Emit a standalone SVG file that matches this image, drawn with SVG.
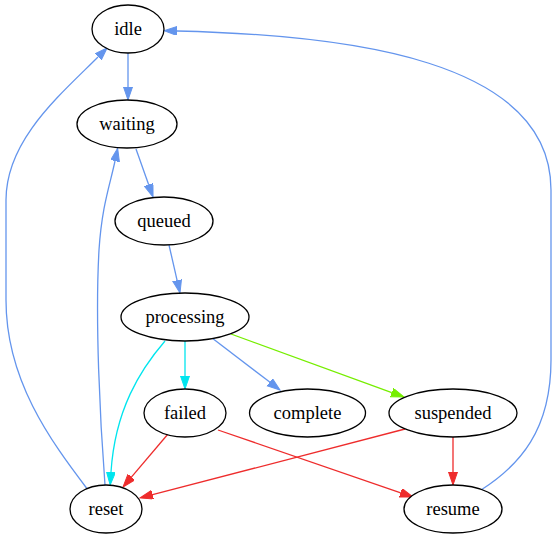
<svg xmlns="http://www.w3.org/2000/svg" width="559" height="539" viewBox="0 0 559 539">
<style>
.n ellipse{fill:#fff;stroke:#000;stroke-width:1.3}
.n text{font-size:18.5px;text-anchor:middle;fill:#000}
.e path{fill:none;stroke-width:1.3}
.b{stroke:#6495ed}.r{stroke:#ee2c2c}.c{stroke:#00e5ee}.g{stroke:#76ee00}
</style>
<defs>
<marker id="ab" markerUnits="userSpaceOnUse" markerWidth="14" markerHeight="10" refX="0" refY="4.5" orient="auto"><path d="M0,0 L13,4.5 L0,9 z" fill="#6495ed" stroke="#6495ed"/></marker>
<marker id="ar" markerUnits="userSpaceOnUse" markerWidth="14" markerHeight="10" refX="0" refY="4.5" orient="auto"><path d="M0,0 L13,4.5 L0,9 z" fill="#ee2c2c" stroke="#ee2c2c"/></marker>
<marker id="ac" markerUnits="userSpaceOnUse" markerWidth="14" markerHeight="10" refX="0" refY="4.5" orient="auto"><path d="M0,0 L13,4.5 L0,9 z" fill="#00e5ee" stroke="#00e5ee"/></marker>
<marker id="ag" markerUnits="userSpaceOnUse" markerWidth="14" markerHeight="10" refX="0" refY="4.5" orient="auto"><path d="M0,0 L13,4.5 L0,9 z" fill="#76ee00" stroke="#76ee00"/></marker>
</defs>
<rect width="559" height="539" fill="#fff"/>
<g id="edges" class="e">
<path class="b" marker-end="url(#ab)" d="M128,53 L128,87"/>
<path class="b" marker-end="url(#ab)" d="M136,149 L148.7,184.7"/>
<path class="b" marker-end="url(#ab)" d="M169,245 L177.1,280.3"/>
<path class="c" marker-end="url(#ac)" d="M185,341 L185,376"/>
<path class="b" marker-end="url(#ab)" d="M212,338 L269.7,382.1"/>
<path class="g" marker-end="url(#ag)" d="M231,334 L391.8,392.6"/>
<path class="c" marker-end="url(#ac)" d="M165,341 C140,370 115,410 111,472"/>
<path class="r" marker-end="url(#ar)" d="M168,434 L131.4,477.1"/>
<path class="r" marker-end="url(#ar)" d="M218,430 L400.7,492.8"/>
<path class="r" marker-end="url(#ar)" d="M405,429 L152.6,494.7"/>
<path class="r" marker-end="url(#ar)" d="M453,437 L453,472"/>
<path class="b" marker-end="url(#ab)" d="M105,485 C100,420 95,320 99,250 C102,205 110,185 115,161"/>
<path class="b" marker-end="url(#ab)" d="M88,490 C50,440 6,380 6,300 L6,200 C6,140 60,95 98,57"/>
<path class="b" marker-end="url(#ab)" d="M481,490 C520,465 551,430 551,360 L551,190 C551,60 350,35 177,31"/>
</g>
<g font-family="Liberation Serif, DejaVu Serif, serif">
<g id="idle" class="n"><ellipse cx="128" cy="29" rx="36" ry="24"/><text x="128" y="35">idle</text></g>
<g id="waiting" class="n"><ellipse cx="127" cy="124" rx="50" ry="24"/><text x="127" y="130">waiting</text></g>
<g id="queued" class="n"><ellipse cx="164" cy="221" rx="49" ry="24"/><text x="164" y="227">queued</text></g>
<g id="processing" class="n"><ellipse cx="185" cy="317" rx="64" ry="24"/><text x="185" y="323">processing</text></g>
<g id="failed" class="n"><ellipse cx="185" cy="413" rx="41" ry="24"/><text x="185" y="419">failed</text></g>
<g id="complete" class="n"><ellipse cx="307.5" cy="413" rx="58" ry="24"/><text x="307.5" y="419">complete</text></g>
<g id="suspended" class="n"><ellipse cx="453" cy="413" rx="64" ry="24"/><text x="453" y="419">suspended</text></g>
<g id="reset" class="n"><ellipse cx="106" cy="509" rx="36" ry="24"/><text x="106" y="515">reset</text></g>
<g id="resume" class="n"><ellipse cx="453" cy="509" rx="49" ry="24"/><text x="453" y="515">resume</text></g>
</g>
</svg>
